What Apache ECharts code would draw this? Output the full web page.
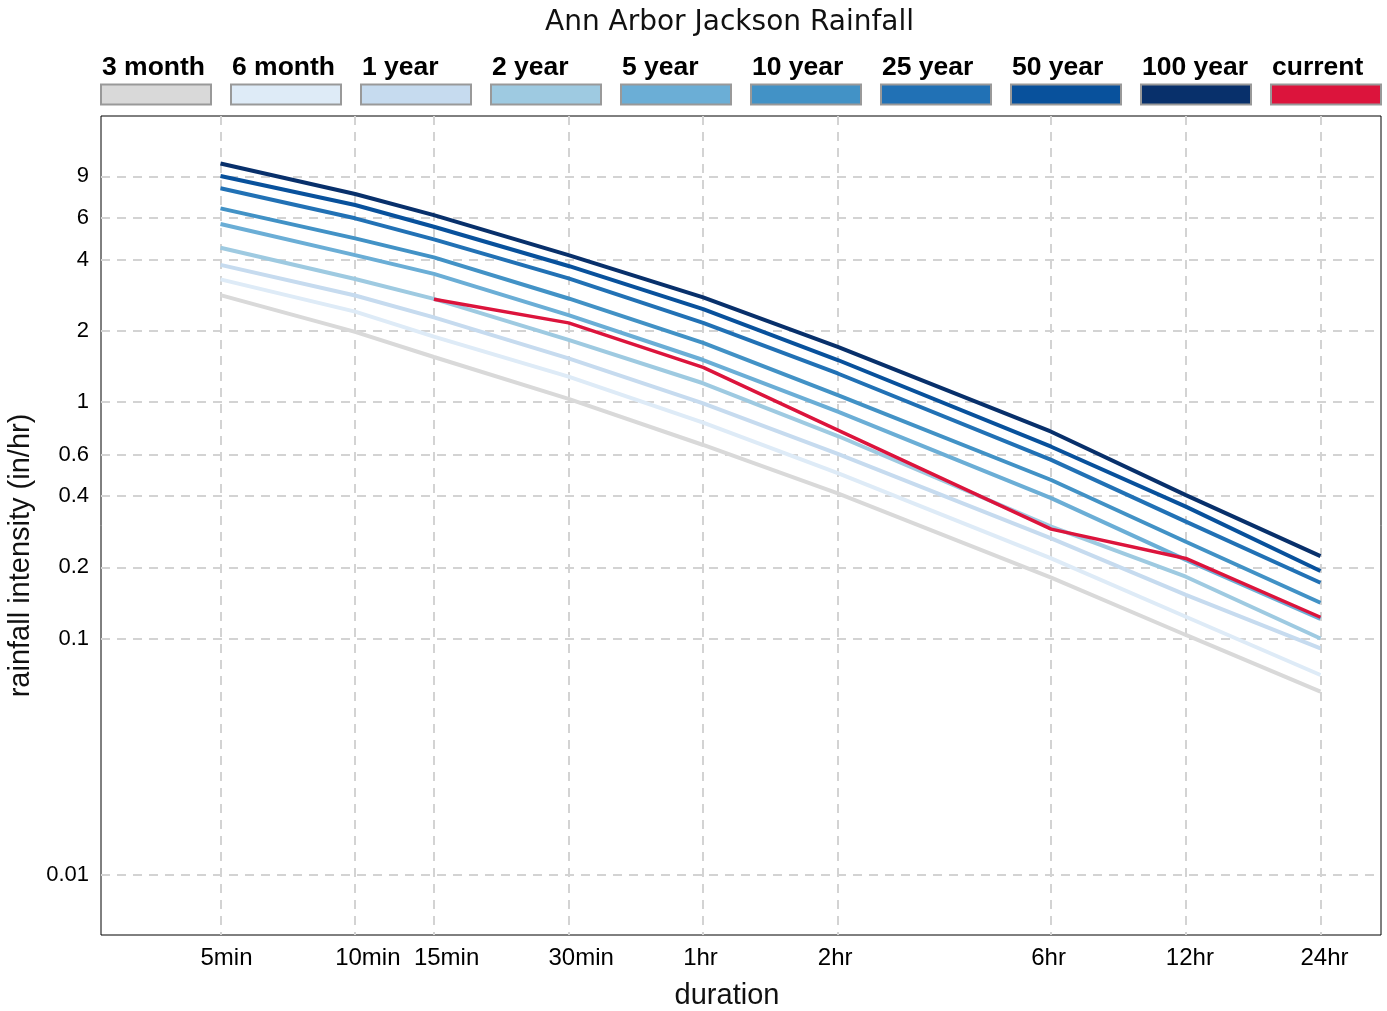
<!DOCTYPE html>
<html>
<head>
<meta charset="utf-8">
<script src="https://cdn.jsdelivr.net/npm/echarts@6/dist/echarts.min.js"></script>
<style>
html,body{margin:0;padding:0;background:#fff}
#c{width:1387px;height:1011px}
</style>
</head>
<body>
<div id="c"></div>
<script>
// ---- data ----
const durations = [5, 10, 15, 30, 60, 120, 360, 720, 1440]; // minutes
const durationLabels = ['5min', '10min', '15min', '30min', '1hr', '2hr', '6hr', '12hr', '24hr'];
const intensityTicks = [0.01, 0.1, 0.2, 0.4, 0.6, 1, 2, 4, 6, 9];
const intensityLabels = ['0.01', '0.1', '0.2', '0.4', '0.6', '1', '2', '4', '6', '9'];

const seriesNames = ['3 month', '6 month', '1 year', '2 year', '5 year', '10 year', '25 year', '50 year', '100 year', 'current'];
const seriesColors = ['#d9d9d9', '#deebf7', '#c6dbef', '#9ecae1', '#6baed6', '#4292c6', '#2171b5', '#08519c', '#08306b', '#dc143c'];

const month3  = [2.83, 1.98, 1.55, 1.03, 0.658, 0.411, 0.181, 0.1035, 0.0596];
const month6  = [3.30, 2.41, 1.89, 1.28, 0.818, 0.500, 0.218, 0.1236, 0.0701];
const year1   = [3.80, 2.82, 2.28, 1.53, 0.987, 0.603, 0.265, 0.153, 0.0909];
const year2   = [4.49, 3.31, 2.73, 1.83, 1.20, 0.718, 0.297, 0.1825, 0.100];
const year5   = [5.66, 4.18, 3.48, 2.33, 1.505, 0.910, 0.392, 0.215, 0.121];
const year10  = [6.59, 4.92, 4.09, 2.74, 1.78, 1.07, 0.468, 0.2566, 0.1417];
const year25  = [8.01, 5.98, 4.87, 3.33, 2.16, 1.32, 0.569, 0.312, 0.172];
const year50  = [9.03, 6.81, 5.51, 3.76, 2.47, 1.505, 0.647, 0.361, 0.193];
const year100 = [10.2, 7.58, 6.17, 4.18, 2.77, 1.71, 0.749, 0.404, 0.223];
const current = [null, null, 2.72, 2.16, 1.40, 0.761, 0.290, 0.218, 0.123];

const allValues = [month3, month6, year1, year2, year5, year10, year25, year50, year100, current];

// ---- build ----
const lg = Math.log10;
function findLabel(v, ticks, labels) {
  for (let i = 0; i < ticks.length; i++) {
    if (Math.abs(lg(ticks[i]) - v) < 1e-6) return labels[i];
  }
  return '';
}

const FONT = "'Liberation Sans', Arial, Helvetica, sans-serif";

const rich = {
  t: { fontFamily: FONT, fontWeight: 'bold', fontSize: 26.5, color: '#000', lineHeight: 34, align: 'left' }
};
seriesColors.forEach((c, i) => {
  rich['b' + i] = { width: 108, height: 18, backgroundColor: c, borderColor: '#999', borderWidth: 2, lineHeight: 20 };
});

const series = seriesNames.map((name, si) => {
  const vals = allValues[si];
  const data = [];
  durations.forEach((d, i) => {
    if (vals[i] != null) data.push([lg(d), lg(vals[i])]);
  });
  return {
    name: name,
    type: 'line',
    data: data,
    symbol: 'none',
    silent: true,
    color: seriesColors[si],
    lineStyle: { color: seriesColors[si], width: si === 9 ? 3.5 : 4 },
    emphasis: { disabled: true },
    z: 2 + si
  };
});

const chart = echarts.init(document.getElementById('c'), null, { renderer: 'canvas' });
chart.setOption({
  animation: false,
  backgroundColor: '#fff',
  title: {
    text: 'Ann Arbor Jackson Rainfall',
    left: 545, top: 9, padding: 0,
    textStyle: { fontFamily: "'DejaVu Sans', Verdana, sans-serif", fontWeight: 'normal', fontSize: 28, color: '#111' }
  },
  legend: {
    data: seriesNames,
    top: 54, left: 96, width: 1291, padding: 0,
    itemWidth: 0, itemHeight: 0, itemGap: 14,
    selectedMode: false,
    formatter: function (name) {
      const i = seriesNames.indexOf(name);
      return '{t|' + name + '}\n{b' + i + '| }';
    },
    textStyle: { rich: rich }
  },
  grid: {
    left: 101, right: 6, top: 116, bottom: 76,
    outerBoundsMode: 'none',
    containLabel: false,
    show: true, borderColor: '#000', borderWidth: 1
  },
  xAxis: {
    type: 'value',
    min: 0.4318, max: 3.2937,
    name: 'duration',
    nameLocation: 'middle',
    nameGap: 46,
    nameTextStyle: { fontFamily: FONT, fontSize: 29, color: '#111', padding: [0, 28, 0, 0] },
    axisLine: { show: false },
    axisTick: { show: false, customValues: durations.map(lg) },
    axisLabel: {
      customValues: durations.map(lg),
      formatter: v => findLabel(v, durations, durationLabels),
      fontFamily: FONT, fontSize: 24, color: '#000',
      margin: 11, align: 'left', padding: [0, 0, 0, -20]
    },
    splitLine: { show: true, lineStyle: { color: '#d3d3d3', width: 2, type: [9, 7] } }
  },
  yAxis: {
    type: 'value',
    min: -2.2537, max: 1.2093,
    name: 'rainfall intensity (in/hr)',
    nameLocation: 'middle',
    nameGap: 64,
    nameTextStyle: { fontFamily: FONT, fontSize: 29, color: '#111', padding: [0, 60, 0, 0] },
    axisLine: { show: false },
    axisTick: { show: false, customValues: intensityTicks.map(lg) },
    axisLabel: {
      customValues: intensityTicks.map(lg),
      formatter: v => findLabel(v, intensityTicks, intensityLabels),
      fontFamily: FONT, fontSize: 22, color: '#000',
      margin: 12
    },
    splitLine: { show: true, lineStyle: { color: '#d3d3d3', width: 2, type: [9, 7] } }
  },
  series: series
});
</script>
</body>
</html>
